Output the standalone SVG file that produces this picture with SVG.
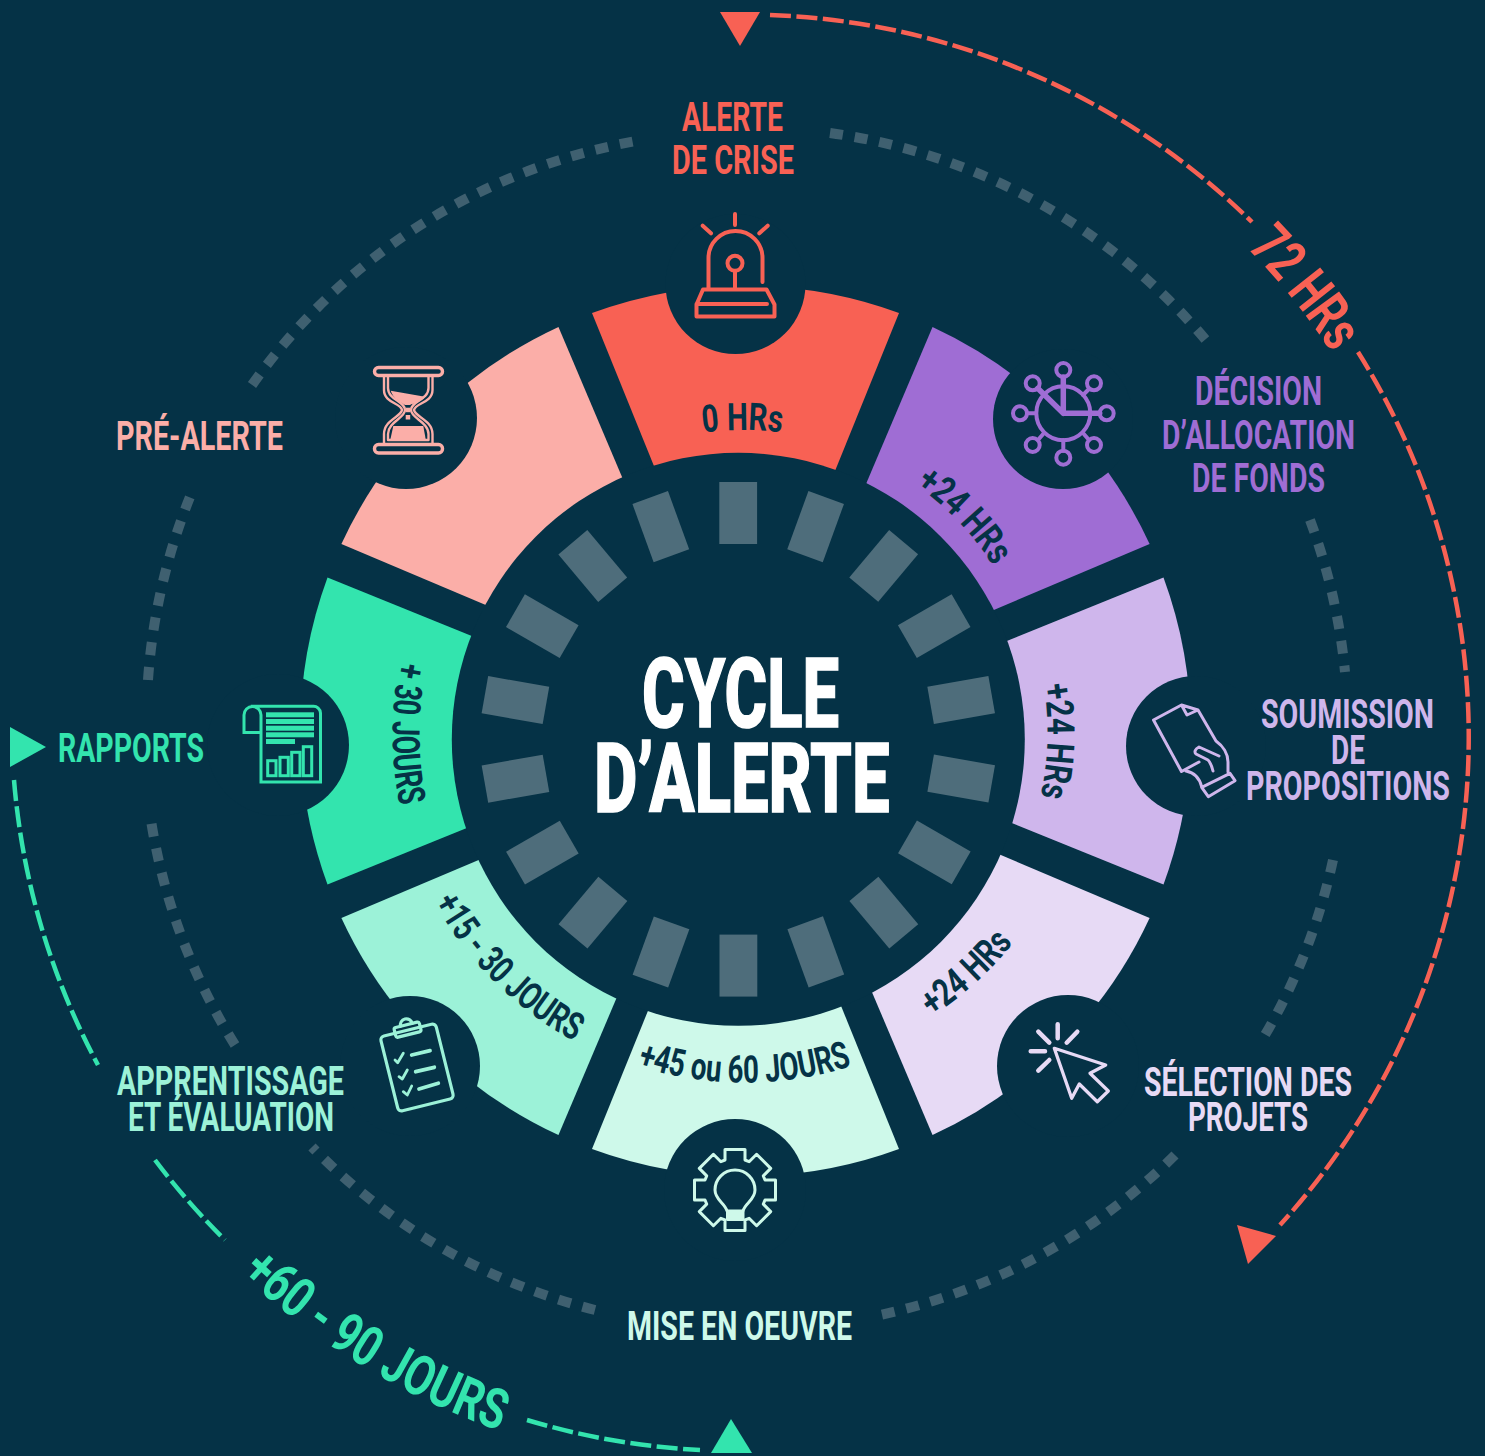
<svg xmlns="http://www.w3.org/2000/svg" width="1485" height="1456" viewBox="0 0 1485 1456">
<style>
text{font-family:"Roboto","Liberation Sans",sans-serif;font-weight:700}
.lab{font-size:41px}
.sec{font-size:38px;fill:#053246}
.dots{fill:none;stroke:#3F6070;stroke-width:10;stroke-dasharray:13 12}
.dash{fill:none;stroke-width:4.5;stroke-dasharray:21 5.5}
.ic{fill:none;stroke-linecap:round;stroke-linejoin:round}
.hole{fill:#053246}
.tick{fill:#4E6D7B}
</style>
<defs>
<path id="sector" d="M-153.5 -418A445 445 0 0 1 153.5 -418L72.9 -219L-72.9 -219Z"/>
<rect id="tk" x="719.3" y="482" width="37.8" height="62" class="tick"/>
<path id="p0" d="M593.5 469.9A298 298 0 0 1 891.5 469.9"/>
<path id="p1" d="M829.7 443.1A300 300 0 0 1 1037 660"/>
<path id="p2" d="M1009.7 588.8A300 300 0 0 1 1000.7 888.7"/>
<path id="p3" d="M818.2 1067.2A344 344 0 0 0 1073 836.2"/>
<path id="p4" d="M568 1035A351 351 0 0 0 921 1035"/>
<path id="p5" d="M409.7 822.2A348 348 0 0 0 656.6 1067.4"/>
<path id="p6" d="M438.1 553.5A355 355 0 0 0 438.1 908.5"/>
<path id="p7" d="M91.6 1092.8A745 745 0 0 0 728.1 1479.8"/>
<path id="p8" d="M998 84.1A703 703 0 0 1 1439.6 631.2"/>
</defs>
<rect width="1485" height="1456" fill="#053246"/>
<g id="connectors">
<path class="dots" d="M830 133A601 601 0 0 1 1210 345"/>
<path class="dots" d="M1310 520A601 601 0 0 1 1345 672"/>
<path class="dots" d="M1333 860A601 601 0 0 1 1265 1035"/>
<path class="dots" d="M1175 1155A601 601 0 0 1 880 1315"/>
<path class="dots" d="M595 1310A601 601 0 0 1 312 1147"/>
<path class="dots" d="M235 1045A601 601 0 0 1 150 814"/>
<path class="dots" d="M148 680A601 601 0 0 1 192 492"/>
<path class="dots" d="M252 385A601 601 0 0 1 642 140"/>
<path class="dash" stroke="#F86154" d="M770 15A725 725 0 0 1 1252 222"/>
<path class="dash" stroke="#F86154" d="M1358 352A725 725 0 0 1 1280 1225"/>
<path class="dash" stroke="#33E4AE" d="M14 780A730 730 0 0 0 98 1065"/>
<path class="dash" stroke="#33E4AE" d="M155 1160A730 730 0 0 0 225 1240"/>
<path class="dash" stroke="#33E4AE" d="M527 1420A730 730 0 0 0 700 1450"/>
<polygon fill="#F86154" points="720,12 760,12 740,46"/>
<polygon fill="#F86154" points="1237,1225 1276,1236 1248,1264"/>
<polygon fill="#33E4AE" points="10,727 46,747 10,767"/>
<polygon fill="#33E4AE" points="711,1453 752,1453 731,1419"/>
</g>
<g id="node-alerte">
<use href="#sector" fill="#F86154" transform="translate(745.5 731)"/>
<circle class="hole" cx="735.5" cy="284" r="70"/>
<g class="ic" stroke="#F86154" stroke-width="4">
<path d="M735 214V225M702.7 225.7L711 233.3M767.7 225.7L759.3 233.3M708.5 288V258A27 27 0 0 1 762.5 258V282"/>
<circle cx="735" cy="263.3" r="7.5"/><path d="M735 271V288M703 289.5H766.5L774.5 304.5V316.5H696.5V304.5ZM696.5 304H767"/>
</g>
<text class="sec"><textPath href="#p0" startOffset="50%" text-anchor="middle" textLength="79" lengthAdjust="spacingAndGlyphs">0 HRs</textPath></text>
<g class="lab" fill="#F86154"><text x="682" y="131" textLength="101" lengthAdjust="spacingAndGlyphs">ALERTE</text><text x="672" y="174" textLength="122" lengthAdjust="spacingAndGlyphs">DE CRISE</text></g>
</g>
<g id="node-decision">
<use href="#sector" fill="#9F6DD4" transform="translate(745.5 731) rotate(45)"/>
<circle class="hole" cx="1063" cy="419" r="70"/>
<g class="ic" stroke="#9F6DD4" stroke-width="4">
<circle cx="1063.3" cy="413.3" r="27"/>
<circle cx="1063.3" cy="370" r="7"/><circle cx="1063.3" cy="457.7" r="7"/><circle cx="1020" cy="413.3" r="7"/><circle cx="1106.7" cy="413.3" r="7"/><circle cx="1032.7" cy="383.3" r="7"/><circle cx="1094" cy="383.3" r="7"/><circle cx="1032.7" cy="445" r="7"/><circle cx="1094" cy="445" r="7"/>
<path d="M1063.3 440V450.7M1027 413.3H1036M1089 389L1083 395M1038 440L1044 433M1089 440L1083 433"/>
<path stroke-width="5.5" d="M1063.3 377V413.3H1099.7M1037.7 388.3L1063.3 413.3"/>
</g>
<text class="sec" transform="translate(-4 -2)"><textPath href="#p1" startOffset="50%" text-anchor="middle" textLength="113" lengthAdjust="spacingAndGlyphs">+24 HRs</textPath></text>
<g class="lab" fill="#9F6DD4"><text x="1195" y="405" textLength="127" lengthAdjust="spacingAndGlyphs">DÉCISION</text><text x="1162" y="449" textLength="193" lengthAdjust="spacingAndGlyphs">D’ALLOCATION</text><text x="1192" y="492" textLength="133" lengthAdjust="spacingAndGlyphs">DE FONDS</text></g>
</g>
<g id="node-soumission">
<use href="#sector" fill="#CFB6EC" transform="translate(745.5 731) rotate(90)"/>
<circle class="hole" cx="1196" cy="746" r="70"/>
<g class="ic" stroke="#CFB6EC" stroke-width="3">
<path d="M1198 710L1181.5 705L1153.5 720L1181.5 771.5L1199 762M1181.5 705L1187 715L1198 710L1216 741C1223 746 1228 754 1228 762V772M1219 756L1199 747C1195 749 1194 752 1196 754L1208 760C1211 763 1212 767 1213 771M1186 771C1192 772 1199 776 1201.7 787M1201.7 787.3L1230 773.3L1235 780.7L1208.3 796.7Z"/>
</g>
<text class="sec" transform="translate(2 1)"><textPath href="#p2" startOffset="50%" text-anchor="middle" textLength="112" lengthAdjust="spacingAndGlyphs">+24 HRs</textPath></text>
<g class="lab" fill="#CFB6EC"><text x="1261" y="728" textLength="173" lengthAdjust="spacingAndGlyphs">SOUMISSION</text><text x="1331" y="764" textLength="34" lengthAdjust="spacingAndGlyphs">DE</text><text x="1246" y="800" textLength="204" lengthAdjust="spacingAndGlyphs">PROPOSITIONS</text></g>
</g>
<g id="node-selection">
<use href="#sector" fill="#E7DAF5" transform="translate(745.5 731) rotate(135)"/>
<circle class="hole" cx="1068" cy="1066" r="71"/>
<g class="ic" stroke="#E7DAF5" stroke-width="3.3">
<path d="M1054.3 1048.3L1105.7 1065L1090 1073.3L1108.3 1091L1097.3 1101.7L1079.3 1084L1071.7 1098.3Z"/>
<path stroke-width="4.5" d="M1057.7 1024.3V1038.3M1038.3 1031.7L1049.3 1042.7M1077.3 1031.7L1066.7 1042.7M1030.7 1051.3H1045M1038.3 1070.7L1049.3 1060"/>
</g>
<text class="sec" transform="translate(-1 -3)"><textPath href="#p3" startOffset="50%" text-anchor="middle" textLength="110" lengthAdjust="spacingAndGlyphs">+24 HRs</textPath></text>
<g class="lab" fill="#E7DAF5"><text x="1144" y="1096" textLength="208" lengthAdjust="spacingAndGlyphs">SÉLECTION DES</text><text x="1188" y="1131" textLength="120" lengthAdjust="spacingAndGlyphs">PROJETS</text></g>
</g>
<g id="node-mise">
<use href="#sector" fill="#CEF9EA" transform="translate(745.5 731) rotate(180)"/>
<circle class="hole" cx="735" cy="1190" r="71"/>
<g transform="translate(735 1190)" class="ic" stroke="#CEF9EA" stroke-width="3">
<path d="M-10 -30L-10 -40.5L10 -40.5L10 -30L14.1 -28.3L21.6 -35.7L35.7 -21.6L28.3 -14.1L30 -10L40.5 -10L40.5 10L30 10L28.3 14.1L35.7 21.6L21.6 35.7L14.1 28.3L10 30L10 40.5L-10 40.5L-10 30L-14.1 28.3L-21.6 35.7L-35.7 21.6L-28.3 14.1L-30 10L-40.5 10L-40.5 -10L-30 -10L-28.3 -14.1L-35.7 -21.6L-21.6 -35.7L-14.1 -28.3Z"/>
<path d="M-8 21C-10 13 -20 10 -20 0A20 20 0 0 1 20 0C20 10 10 13 8 21"/>
<rect x="-7.5" y="21" width="15.5" height="8.5" fill="#CEF9EA"/>
</g>
<text class="sec"><textPath href="#p4" startOffset="50%" text-anchor="middle" textLength="218" lengthAdjust="spacingAndGlyphs">+45 ou 60 JOURS</textPath></text>
<text class="lab" x="627" y="1340" fill="#CEF9EA" textLength="225" lengthAdjust="spacingAndGlyphs">MISE EN OEUVRE</text>
</g>
<g id="node-apprentissage">
<use href="#sector" fill="#9CF2D8" transform="translate(745.5 731) rotate(225)"/>
<circle class="hole" cx="410" cy="1066" r="70"/>
<g class="ic" stroke="#9CF2D8" stroke-width="3.2">
<g transform="translate(417 1067.5) rotate(-14)"><rect x="-28.5" y="-38.5" width="57" height="77" rx="4"/><rect x="-13" y="-44" width="26" height="10" rx="2"/><path d="M-6 -44A6 6 0 0 1 6 -44"/></g>
<path stroke-width="3.8" d="M411.7 1055L430 1050.7M415.7 1071.7L434.3 1067.3M419 1089L438.3 1083.3"/>
<path stroke-width="2.8" d="M395 1060L397.7 1062.7L403.3 1053.3M399 1076.7L402.3 1079L407.3 1070M403.3 1091.7L407.3 1095L411.7 1086"/>
</g>
<text class="sec" transform="translate(-6 4)"><textPath href="#p5" startOffset="50%" text-anchor="middle" textLength="200" lengthAdjust="spacingAndGlyphs">+15 - 30 JOURS</textPath></text>
<g class="lab" fill="#9CF2D8"><text x="117" y="1095" textLength="227" lengthAdjust="spacingAndGlyphs">APPRENTISSAGE</text><text x="128" y="1131" textLength="206" lengthAdjust="spacingAndGlyphs">ET ÉVALUATION</text></g>
</g>
<g id="node-rapports">
<use href="#sector" fill="#33E4AE" transform="translate(745.5 731) rotate(270)"/>
<circle class="hole" cx="278" cy="745" r="71"/>
<g fill="none" stroke="#33E4AE" stroke-width="3">
<path d="M261 732.5H244V715A8.5 8.5 0 0 1 261 715ZM250.7 706.3H313A7 7 0 0 1 320.5 713V782H261V715"/>
<rect x="267.7" y="760.7" width="8.3" height="15"/><rect x="280" y="757.3" width="8.3" height="18.4"/><rect x="291.7" y="752.3" width="8.3" height="23.4"/><rect x="303.3" y="746.7" width="8.4" height="29"/>
</g>
<g fill="#33E4AE"><rect x="266" y="712.3" width="48" height="5"/><rect x="266" y="719" width="48" height="5"/><rect x="266" y="725.7" width="48" height="5"/><rect x="266" y="732.3" width="48" height="5"/><rect x="266" y="739" width="29" height="5"/></g>
<text class="sec" transform="translate(2 3)"><textPath href="#p6" startOffset="50%" text-anchor="middle" textLength="145" lengthAdjust="spacingAndGlyphs">+ 30 JOURS</textPath></text>
<text class="lab" x="58" y="762" fill="#33E4AE" textLength="146" lengthAdjust="spacingAndGlyphs">RAPPORTS</text>
</g>
<g id="node-pre-alerte">
<use href="#sector" fill="#FBAEA8" transform="translate(745.5 731) rotate(315)"/>
<circle class="hole" cx="406" cy="418" r="71"/>
<g class="ic" stroke="#FBAEA8" stroke-width="3.4">
<rect x="374.5" y="367.5" width="68" height="8" rx="4"/><rect x="374.5" y="444.5" width="68" height="8.5" rx="4"/>
<path stroke-width="2.4" d="M384 376V390C384 403 401 403 402 410C401 417 384 420 384 434V444M432.5 376V390C432.5 403 415 403 414 410C415 417 432.5 420 432.5 434V444M388 376V388C388 400 405 401 405 410C405 418 388 422 388 434V440H428.5V434C428.5 422 411 418 411 410C411 401 428.5 400 428.5 388V376"/>
</g>
<g fill="#FBAEA8"><path d="M390.7 390.7L425 396.7C422 402 413 403 410 405H405C400 402 393 398 390.7 390.7Z"/><rect x="405.7" y="407.7" width="4.5" height="4.5"/><rect x="405.7" y="415" width="4.5" height="4.5"/><path d="M393.3 426H423.3L426 441H390Z"/></g>
<text class="lab" fill="#FBAEA8" x="116" y="450" textLength="167" lengthAdjust="spacingAndGlyphs">PRÉ-ALERTE</text>
</g>
<circle id="hub" class="hole" cx="738.3" cy="739.3" r="286.5"/>
<g id="ticks">
<use href="#tk" transform="rotate(20 738.3 739.3)"/><use href="#tk" transform="rotate(40 738.3 739.3)"/><use href="#tk" transform="rotate(60 738.3 739.3)"/><use href="#tk" transform="rotate(80 738.3 739.3)"/><use href="#tk" transform="rotate(100 738.3 739.3)"/><use href="#tk" transform="rotate(120 738.3 739.3)"/><use href="#tk" transform="rotate(140 738.3 739.3)"/><use href="#tk" transform="rotate(160 738.3 739.3)"/><use href="#tk" transform="rotate(180 738.3 739.3)"/><use href="#tk" transform="rotate(200 738.3 739.3)"/><use href="#tk" transform="rotate(220 738.3 739.3)"/><use href="#tk" transform="rotate(240 738.3 739.3)"/><use href="#tk" transform="rotate(260 738.3 739.3)"/><use href="#tk" transform="rotate(280 738.3 739.3)"/><use href="#tk" transform="rotate(300 738.3 739.3)"/><use href="#tk" transform="rotate(320 738.3 739.3)"/><use href="#tk" transform="rotate(340 738.3 739.3)"/><use href="#tk"/>
</g>
<g id="center-title" fill="#fff" stroke="#fff" stroke-width="1.6">
<text x="642" y="726.5" font-size="96" style="font-weight:800" textLength="197" lengthAdjust="spacingAndGlyphs">CYCLE</text>
<text x="594" y="811.5" font-size="96" style="font-weight:800" textLength="295.5" lengthAdjust="spacingAndGlyphs">D’ALERTE</text>
</g>
<g id="duration-labels">
<text font-size="58" fill="#F86154"><textPath href="#p8" startOffset="50%" text-anchor="middle" textLength="135" lengthAdjust="spacingAndGlyphs">72 HRs</textPath></text>
<text font-size="56" fill="#33E4AE" transform="translate(4 -6)"><textPath href="#p7" startOffset="50%" text-anchor="middle" textLength="305" lengthAdjust="spacingAndGlyphs">+60 - 90 JOURS</textPath></text>
</g>
</svg>
